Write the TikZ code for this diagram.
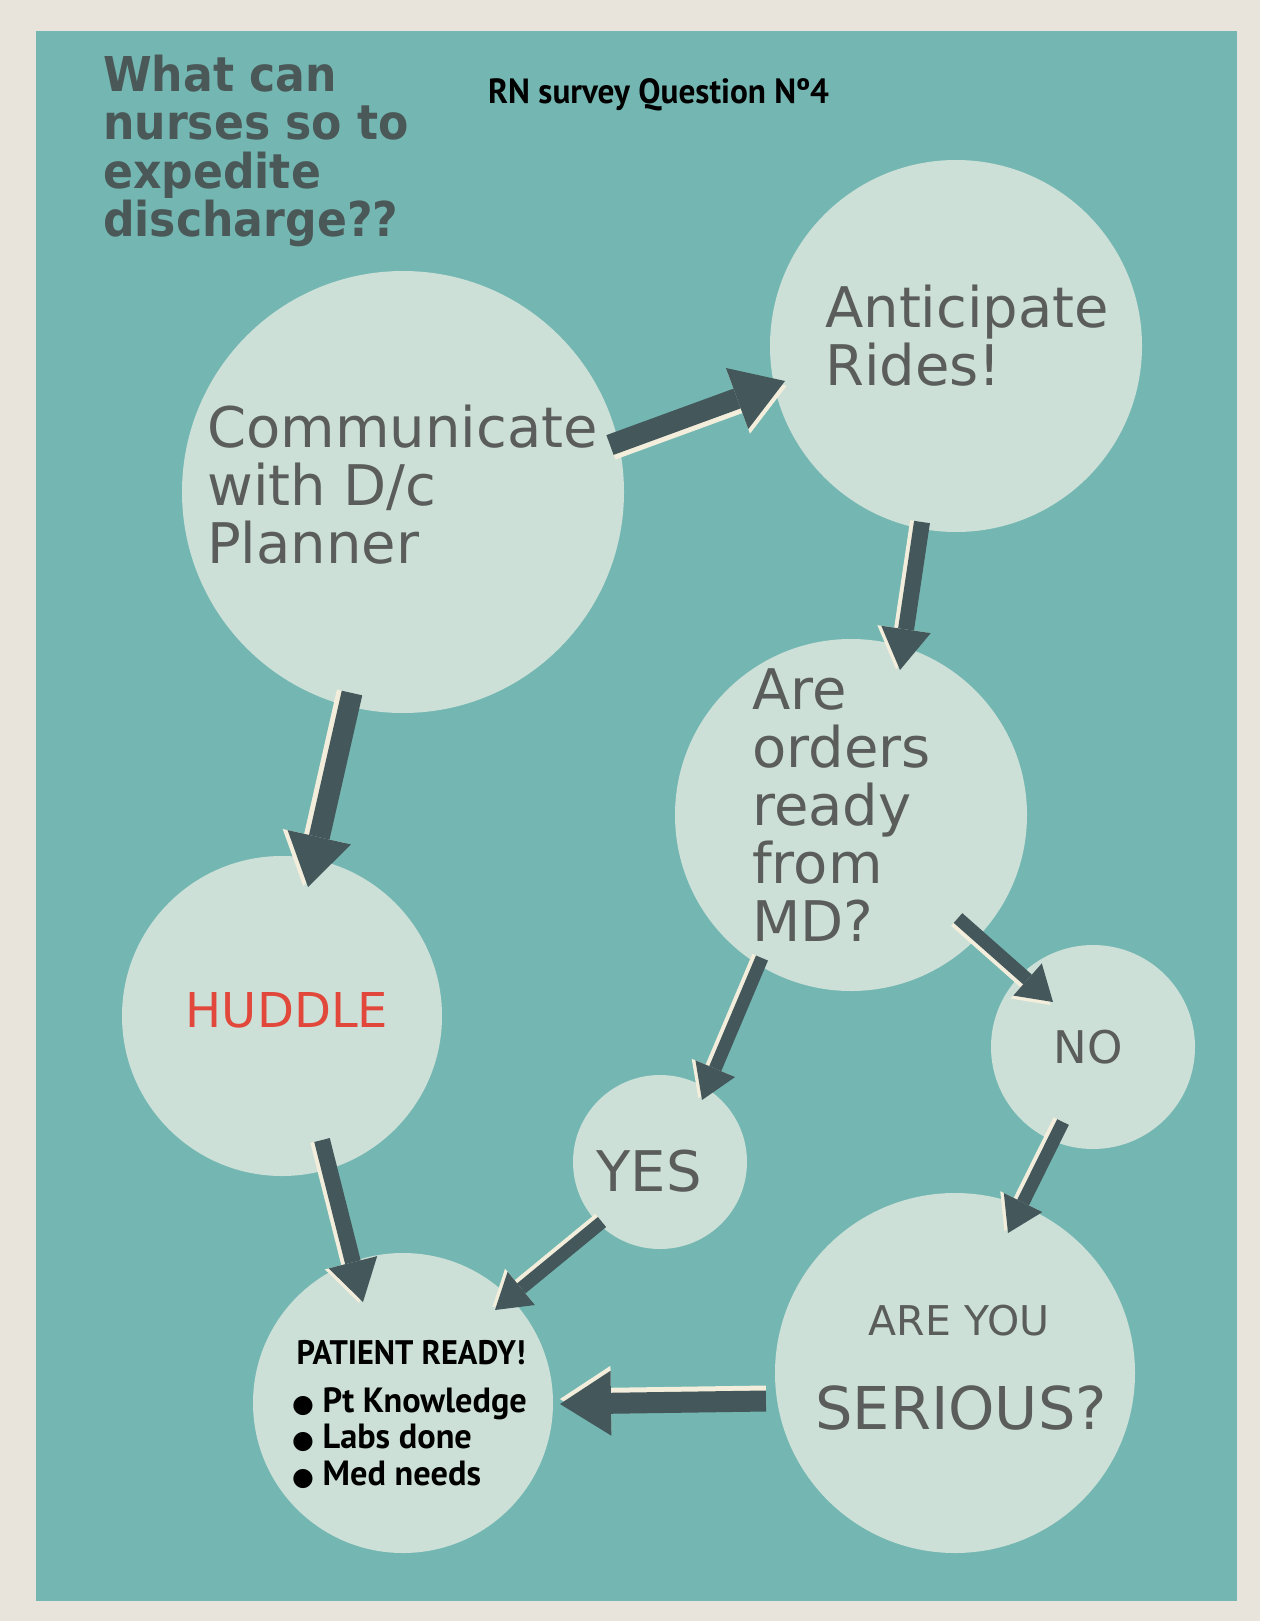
\documentclass[tikz,border=0pt]{standalone}
\usepackage{fontspec}
\setmainfont{DejaVu Sans}
\newfontfamily\headfont[FakeStretch=0.92]{DejaVu Sans}
\newfontfamily\dinfont[FakeStretch=0.95]{PT Sans}
\newfontfamily\dinwide[FakeStretch=0.98]{PT Sans}
\usetikzlibrary{arrows.meta,calc}

\definecolor{paper}{HTML}{E9E4DB}
\definecolor{board}{HTML}{74B7B2}
\definecolor{mint}{HTML}{CCE0D7}
\definecolor{slate}{HTML}{44575B}
\definecolor{cream}{HTML}{F3EEDC}
\definecolor{ink}{HTML}{5A5D5B}
\definecolor{headink}{HTML}{4B5858}
\definecolor{alarm}{HTML}{E2473B}

\tikzset{
  disc/.style={circle, fill=mint, inner sep=0pt, minimum size=#1},
  say/.style={text=ink, inner sep=0pt, align=left,
    font={\fontsize{56}{58}\selectfont\lineskiplimit=-100pt}},
  din/.style={text=black, inner sep=0pt, align=left,
    font={\dinfont\bfseries\fontsize{34}{39}\selectfont\lineskiplimit=-100pt}},
  fatarrow/.style={line width=21pt, -{Triangle[length=51pt, width=65pt, line width=0pt]}},
  midarrow/.style={line width=16pt, -{Triangle[length=41pt, width=50pt, line width=0pt]}},
  slimarrow/.style={line width=13pt, -{Triangle[length=34pt, width=43pt, line width=0pt]}},
  glint/.style={draw=cream},
  shaft/.style={draw=slate},
}

\begin{document}
\begin{tikzpicture}[x=1pt, y=-1pt]
    \useasboundingbox (0,0) rectangle (1260,1621);
    \fill [paper] (0,0) rectangle (1260,1621);
    \fill [board] (36,31) rectangle (1237,1601);

    % the discs
    \node [disc=442pt] (comm)    at (403,492)  {};
    \node [disc=372pt] (rides)   at (956,346)  {};
    \node [disc=352pt] (orders)  at (851,815)  {};
    \node [disc=320pt] (huddle)  at (282,1016) {};
    \node [disc=204pt] (no)      at (1093,1047) {};
    \node [disc=174pt] (yes)     at (660,1162) {};
    \node [disc=360pt] (serious) at (955,1373) {};
    \node [disc=300pt] (ready)   at (403,1403) {};

    % headings
    \node [text=headink, inner sep=0pt, align=left, anchor=west,
           font={\headfont\bfseries\fontsize{48}{48.3}\selectfont\lineskiplimit=-100pt}]
          (title) at (103,151) {What can\\nurses so to\\expedite\\discharge??};
    \node [din, font={\dinfont\bfseries\fontsize{35}{39}\selectfont}, anchor=base west]
          (survey) at (488,104) {RN survey Question Nº4};

    % disc texts
    \node [say, anchor=west] (commtext)   at (207,485) {Communicate\\with D/c\\Planner};
    \node [say, anchor=west] (ridestext)  at (825,336) {Anticipate\\Rides!};
    \node [say, anchor=west] (orderstext) at (752,805) {Are\\orders\\ready\\from\\MD?};
    \node [say, text=alarm, font=\fontsize{48}{50}\selectfont] (huddletext) at (287,1010) {HUDDLE};
    \node [say, font=\fontsize{45}{50}\selectfont] (notext)  at (1088,1047) {NO};
    \node [say] (yestext) at (649,1171) {YES};
    \node [say, font=\fontsize{41}{45}\selectfont] (areyou)   at (959,1321) {ARE YOU};
    \node [say, font=\fontsize{59}{60}\selectfont] (seriousq) at (961,1408) {SERIOUS?};
    \node [din] (readytext) at (411,1353) {PATIENT READY!};
    \node [din, font={\dinwide\bfseries\fontsize{35}{36.5}\selectfont\lineskiplimit=-100pt},
           anchor=west] (needs) at (292,1438)
          {{\rmfamily\mdseries\fontsize{25}{25}\selectfont ●} Pt Knowledge\\
           {\rmfamily\mdseries\fontsize{25}{25}\selectfont ●} Labs done\\
           {\rmfamily\mdseries\fontsize{25}{25}\selectfont ●} Med needs};

    % arrow ends
    \coordinate (commout)    at (610,445);
    \coordinate (ridesin)    at (785,381);
    \coordinate (ridesout)   at (922,522);
    \coordinate (ordersin)   at (900,670);
    \coordinate (commdown)   at (352,693);
    \coordinate (huddlein)   at (308,887);
    \coordinate (ordersno)   at (958,918);
    \coordinate (noin)       at (1053,1002);
    \coordinate (ordersyes)  at (762,958);
    \coordinate (yesin)      at (702,1100);
    \coordinate (noout)      at (1063,1122);
    \coordinate (seriousin)  at (1008,1233);
    \coordinate (huddleout)  at (322,1140);
    \coordinate (readytop)   at (363,1302);
    \coordinate (yesout)     at (602,1222);
    \coordinate (readyright) at (495,1310);
    \coordinate (seriousout) at (766,1401);
    \coordinate (readyside)  at (560,1404);

    % arrows, a light edge first and the dark arrow on top
    \draw [fatarrow, glint] ($(commout)!5pt!-90:(ridesin)$) -- ($(ridesin)!5pt!90:(commout)$);
    \draw [fatarrow, shaft] (commout) -- (ridesin);

    \draw [midarrow, glint] ($(ridesout)!4pt!-90:(ordersin)$) -- ($(ordersin)!4pt!90:(ridesout)$);
    \draw [midarrow, shaft] (ridesout) -- (ordersin);

    \draw [fatarrow, glint] ($(commdown)!5pt!-90:(huddlein)$) -- ($(huddlein)!5pt!90:(commdown)$);
    \draw [fatarrow, shaft] (commdown) -- (huddlein);

    \draw [slimarrow, glint] ($(ordersno)!4pt!-90:(noin)$) -- ($(noin)!4pt!90:(ordersno)$);
    \draw [slimarrow, shaft] (ordersno) -- (noin);

    \draw [slimarrow, glint] ($(ordersyes)!4pt!-90:(yesin)$) -- ($(yesin)!4pt!90:(ordersyes)$);
    \draw [slimarrow, shaft] (ordersyes) -- (yesin);

    \draw [slimarrow, glint] ($(noout)!4pt!-90:(seriousin)$) -- ($(seriousin)!4pt!90:(noout)$);
    \draw [slimarrow, shaft] (noout) -- (seriousin);

    \draw [midarrow, glint] ($(huddleout)!4pt!-90:(readytop)$) -- ($(readytop)!4pt!90:(huddleout)$);
    \draw [midarrow, shaft] (huddleout) -- (readytop);

    \draw [slimarrow, glint] ($(yesout)!4pt!-90:(readyright)$) -- ($(readyright)!4pt!90:(yesout)$);
    \draw [slimarrow, shaft] (yesout) -- (readyright);

    \draw [fatarrow, glint] ($(seriousout)!5pt!-90:(readyside)$) -- ($(readyside)!5pt!90:(seriousout)$);
    \draw [fatarrow, shaft] (seriousout) -- (readyside);
\end{tikzpicture}
\end{document}
